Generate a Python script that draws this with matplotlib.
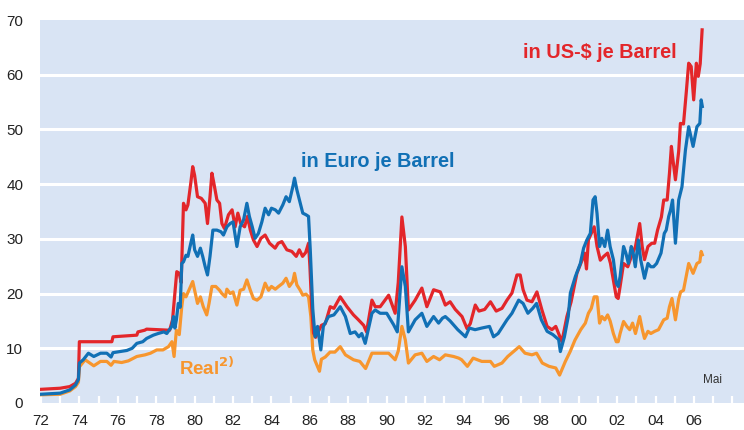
import matplotlib.pyplot as plt
import numpy as np

plt.rcParams['font.family'] = ['Liberation Sans', 'DejaVu Sans']

# Oelpreis in US-$ je Barrel
usd_t = [1972.0, 1973.0, 1973.5, 1973.8, 1973.95, 1974.0, 1975.69, 1975.75, 1976.99, 1977.05,
         1977.4, 1977.5, 1978.7, 1978.85, 1979.07, 1979.2, 1979.3, 1979.42, 1979.55, 1979.65,
         1979.8, 1979.9, 1980.0, 1980.15, 1980.35, 1980.55, 1980.67, 1980.8, 1980.9, 1981.0,
         1981.16, 1981.3, 1981.42, 1981.55, 1981.76, 1981.95, 1982.11, 1982.25, 1982.4, 1982.6,
         1982.75, 1982.9, 1983.06, 1983.25, 1983.45, 1983.67, 1983.9, 1984.19, 1984.35, 1984.54,
         1984.8, 1985.06, 1985.29, 1985.45, 1985.62, 1985.78, 1985.93, 1986.0, 1986.1, 1986.19,
         1986.3, 1986.6, 1986.8, 1987.06, 1987.25, 1987.58, 1987.93, 1988.27, 1988.5, 1988.8,
         1988.95, 1989.23, 1989.4, 1989.66, 1990.1, 1990.44, 1990.6, 1990.79, 1990.97, 1991.13,
         1991.48, 1991.83, 1992.09, 1992.44, 1992.79, 1993.05, 1993.3, 1993.57, 1993.92, 1994.18,
         1994.35, 1994.61, 1994.8, 1995.1, 1995.4, 1995.7, 1996.0, 1996.26, 1996.52, 1996.78,
         1996.95, 1997.1, 1997.3, 1997.56, 1997.82, 1998.08, 1998.35, 1998.6, 1998.8, 1999.12,
         1999.38, 1999.6, 1999.9, 2000.17, 2000.3, 2000.4, 2000.5, 2000.8, 2000.95, 2001.12,
         2001.3, 2001.5, 2001.65, 2001.8, 2001.95, 2002.05, 2002.15, 2002.33, 2002.55, 2002.8,
         2002.95, 2003.17, 2003.3, 2003.42, 2003.6, 2003.8, 2003.95, 2004.1, 2004.3, 2004.42,
         2004.6, 2004.72, 2004.82, 2004.9, 2005.03, 2005.2, 2005.29, 2005.45, 2005.6, 2005.72,
         2005.85, 2005.98, 2006.12, 2006.22, 2006.32, 2006.42]
usd_v = [2.5, 2.7, 3.0, 3.6, 4.5, 11.2, 11.2, 12.1, 12.4, 13.0,
         13.3, 13.5, 13.3, 15.2, 24.0, 23.7, 22.0, 36.5, 35.3, 36.2,
         40.2, 43.2, 41.6, 37.7, 37.4, 36.5, 32.8, 37.7, 42.0, 40.2,
         37.1, 36.5, 32.8, 31.9, 34.4, 35.3, 32.2, 34.7, 32.8, 32.2,
         34.1, 31.6, 29.8, 28.6, 30.1, 30.7, 29.2, 28.3, 29.2, 29.5,
         28.0, 27.7, 26.8, 28.0, 26.8, 27.5, 29.2, 25.0, 17.2, 12.8,
         12.0, 14.2, 14.5, 17.6, 17.3, 19.4, 17.6, 16.1, 15.3, 14.2,
         13.0, 18.8, 17.6, 17.6, 19.7, 16.4, 22.0, 34.0, 28.6, 17.0,
         18.8, 21.0, 17.6, 20.7, 20.3, 17.9, 18.5, 17.1, 15.8, 13.6,
         14.5, 17.9, 16.8, 17.1, 18.5, 16.8, 17.3, 18.8, 20.1, 23.4,
         23.4, 20.7, 18.8, 18.5, 20.3, 17.0, 14.0, 13.4, 14.0, 11.2,
         15.8, 18.5, 23.7, 26.1, 27.4, 24.5, 29.8, 32.2, 28.6, 26.1,
         26.8, 27.4, 25.5, 22.4, 19.4, 19.1, 21.3, 25.5, 24.9, 27.4,
         28.6, 32.8, 28.6, 26.2, 28.6, 29.2, 29.2, 31.6, 34.0, 37.1,
         37.1, 42.0, 46.9, 44.5, 40.8, 46.0, 51.1, 51.0, 57.0, 62.1,
         61.5, 55.4, 62.1, 59.7, 62.0, 68.2]

# Oelpreis in Euro je Barrel
eur_t = [1972.0, 1973.0, 1973.5, 1973.8, 1973.95, 1974.0, 1974.2, 1974.47, 1974.75, 1975.1,
         1975.43, 1975.65, 1975.75, 1976.1, 1976.47, 1976.75, 1976.99, 1977.3, 1977.5, 1977.85,
         1978.1, 1978.4, 1978.55, 1978.81, 1978.9, 1978.97, 1979.05, 1979.15, 1979.25, 1979.33,
         1979.42, 1979.55, 1979.65, 1979.8, 1979.9, 1980.0, 1980.15, 1980.3, 1980.42, 1980.55,
         1980.67, 1980.8, 1980.95, 1981.16, 1981.37, 1981.5, 1981.68, 1981.85, 1982.0, 1982.2,
         1982.37, 1982.55, 1982.72, 1982.85, 1983.0, 1983.15, 1983.32, 1983.5, 1983.67, 1983.85,
         1984.0, 1984.2, 1984.37, 1984.59, 1984.76, 1984.93, 1985.11, 1985.2, 1985.32, 1985.5,
         1985.63, 1985.8, 1985.93, 1986.02, 1986.15, 1986.27, 1986.4, 1986.57, 1986.7, 1986.97,
         1987.25, 1987.58, 1987.85, 1988.1, 1988.35, 1988.55, 1988.7, 1988.88, 1989.23, 1989.4,
         1989.66, 1990.0, 1990.36, 1990.55, 1990.79, 1990.97, 1991.13, 1991.48, 1991.83, 1992.09,
         1992.44, 1992.7, 1992.9, 1993.05, 1993.3, 1993.7, 1994.1, 1994.3, 1994.6, 1994.95,
         1995.35, 1995.56, 1995.8, 1996.26, 1996.52, 1996.87, 1997.1, 1997.35, 1997.6, 1997.8,
         1998.05, 1998.35, 1998.65, 1998.95, 1999.04, 1999.25, 1999.45, 1999.56, 1999.82, 2000.08,
         2000.25, 2000.42, 2000.6, 2000.74, 2000.85, 2000.95, 2001.08, 2001.2, 2001.35, 2001.5,
         2001.63, 2001.8, 2001.95, 2002.05, 2002.15, 2002.33, 2002.45, 2002.58, 2002.73, 2002.83,
         2002.94, 2003.1, 2003.22, 2003.42, 2003.6, 2003.75, 2003.89, 2004.05, 2004.28, 2004.45,
         2004.55, 2004.68, 2004.78, 2004.88, 2005.03, 2005.2, 2005.37, 2005.55, 2005.72, 2005.95,
         2006.15, 2006.3, 2006.37, 2006.43]
eur_v = [1.6, 1.8, 2.4, 3.3, 4.3, 7.3, 7.9, 9.1, 8.5, 9.1,
         9.1, 8.4, 9.2, 9.4, 9.6, 10.0, 10.9, 11.2, 11.8, 12.4,
         12.7, 13.0, 12.7, 14.0, 15.8, 13.7, 15.2, 18.2, 17.5, 25.5,
         25.8, 27.0, 26.8, 29.2, 30.7, 28.0, 26.8, 28.3, 26.8, 24.9,
         23.4, 26.8, 31.6, 31.6, 31.3, 30.7, 32.2, 32.8, 33.1, 28.6,
         32.2, 33.5, 36.5, 34.1, 32.2, 30.1, 31.0, 33.1, 35.6, 34.4,
         35.6, 35.3, 34.7, 36.2, 37.7, 36.8, 39.5, 41.1, 39.0, 36.5,
         34.7, 34.4, 34.1, 28.0, 17.2, 12.1, 14.0, 9.7, 14.0, 15.8,
         16.1, 17.6, 15.8, 12.7, 13.0, 12.1, 12.7, 10.9, 16.4, 17.0,
         16.4, 16.4, 14.3, 13.0, 24.9, 21.3, 13.0, 15.2, 16.4, 14.0,
         15.8, 14.6, 15.5, 15.8, 15.0, 13.4, 12.1, 13.7, 13.4, 13.7,
         14.0, 12.1, 12.7, 15.2, 16.4, 18.8, 18.2, 16.4, 17.3, 18.2,
         15.2, 13.1, 12.5, 11.6, 9.4, 12.1, 15.8, 20.1, 23.1, 25.5,
         28.3, 29.8, 31.0, 37.1, 37.7, 34.6, 28.6, 30.1, 28.6, 31.6,
         28.6, 26.2, 21.9, 21.3, 23.1, 28.6, 27.4, 25.5, 28.6, 27.4,
         24.9, 29.8, 26.2, 22.8, 25.5, 24.9, 24.9, 25.5, 27.4, 31.0,
         31.6, 34.1, 35.3, 37.1, 29.2, 37.1, 39.5, 46.2, 50.5, 46.9,
         50.5, 51.1, 55.4, 54.2]

# realer Oelpreis
real_t = [1972.0, 1973.0, 1973.5, 1973.8, 1973.95, 1974.0, 1974.3, 1974.75, 1975.1, 1975.43,
          1975.65, 1975.8, 1976.2, 1976.55, 1976.99, 1977.42, 1977.7, 1978.03, 1978.35, 1978.64,
          1978.82, 1978.93, 1979.05, 1979.2, 1979.33, 1979.42, 1979.55, 1979.7, 1979.9, 1980.0,
          1980.15, 1980.3, 1980.45, 1980.63, 1980.75, 1980.9, 1981.1, 1981.3, 1981.42, 1981.6,
          1981.68, 1981.85, 1982.0, 1982.2, 1982.37, 1982.55, 1982.72, 1982.9, 1983.06, 1983.25,
          1983.45, 1983.67, 1983.85, 1984.0, 1984.2, 1984.37, 1984.59, 1984.76, 1984.93, 1985.11,
          1985.2, 1985.32, 1985.5, 1985.63, 1985.8, 1985.93, 1986.05, 1986.15, 1986.25, 1986.5,
          1986.6, 1986.8, 1987.05, 1987.3, 1987.58, 1987.85, 1988.27, 1988.6, 1988.9, 1989.23,
          1989.66, 1990.1, 1990.44, 1990.6, 1990.79, 1990.97, 1991.13, 1991.48, 1991.83, 1992.09,
          1992.44, 1992.75, 1993.05, 1993.48, 1993.75, 1993.9, 1994.2, 1994.5, 1994.95, 1995.4,
          1995.6, 1996.0, 1996.3, 1996.6, 1996.9, 1997.2, 1997.56, 1997.8, 1998.1, 1998.45,
          1998.8, 1999.0, 1999.3, 1999.55, 1999.8, 2000.1, 2000.34, 2000.5, 2000.65, 2000.8,
          2000.95, 2001.08, 2001.2, 2001.35, 2001.5, 2001.63, 2001.8, 2001.95, 2002.05, 2002.15,
          2002.33, 2002.5, 2002.65, 2002.8, 2002.95, 2003.17, 2003.3, 2003.42, 2003.6, 2003.75,
          2003.95, 2004.15, 2004.42, 2004.6, 2004.72, 2004.85, 2005.03, 2005.2, 2005.3, 2005.45,
          2005.72, 2005.95, 2006.15, 2006.3, 2006.37, 2006.43]
real_v = [1.5, 1.6, 2.2, 3.0, 3.8, 6.6, 7.9, 6.8, 7.6, 7.6,
          6.9, 7.6, 7.4, 7.7, 8.5, 8.8, 9.1, 9.7, 9.7, 10.3,
          11.2, 8.5, 13.3, 12.5, 17.6, 20.0, 19.4, 20.6, 22.2, 20.6,
          18.2, 19.4, 17.6, 16.1, 18.2, 21.3, 21.3, 20.6, 20.0, 19.4,
          20.8, 20.0, 20.3, 17.9, 20.6, 20.8, 22.5, 20.6, 19.1, 18.8,
          19.4, 21.9, 20.6, 21.3, 20.8, 21.3, 21.9, 22.8, 21.3, 22.2,
          23.7, 21.6, 20.6, 19.7, 19.9, 19.4, 15.8, 9.7, 7.9, 5.8,
          8.0, 8.4, 9.3, 9.3, 10.3, 8.8, 7.9, 7.6, 6.3, 9.1,
          9.1, 9.1, 7.9, 9.5, 14.0, 11.5, 7.3, 8.8, 9.1, 7.6,
          8.5, 7.9, 8.8, 8.5, 8.2, 7.9, 6.7, 8.2, 7.6, 7.6,
          6.7, 7.3, 8.5, 9.4, 10.3, 9.1, 8.8, 9.1, 7.3, 6.7,
          6.4, 5.1, 7.6, 9.4, 11.5, 13.4, 14.6, 16.4, 17.3, 19.4,
          19.4, 14.6, 15.8, 15.2, 16.1, 15.0, 12.7, 11.2, 11.2, 12.7,
          14.9, 14.0, 13.4, 14.6, 12.7, 15.8, 13.5, 11.8, 13.1, 12.7,
          13.1, 13.4, 15.2, 15.5, 17.6, 19.1, 15.2, 19.0, 20.3, 20.6,
          25.5, 23.7, 25.5, 25.8, 27.7, 27.1]

years = np.arange(1972, 2009)
tick_labels = [f"{y % 100:02d}" if (y % 2 == 0 and y <= 2006) else "" for y in years]

red = '#e3262a'
blue = '#1170b5'
orange = '#f7962e'

fig = plt.figure(figsize=(7.44, 4.3), dpi=100)
ax = fig.add_axes([40/744, 27/430, 704/744, 383/430])
ax.set_facecolor('#d9e4f4')

for yv in range(10, 70, 10):
    ax.axhline(yv, color='white', lw=2.2, zorder=1)

ax.plot(real_t, real_v, color=orange, lw=2.3, zorder=3, solid_joinstyle='round')
ax.plot(usd_t, usd_v, color=red, lw=2.3, zorder=4, solid_joinstyle='round')
ax.plot(eur_t, eur_v, color=blue, lw=2.3, zorder=5, solid_joinstyle='round')

ax.set_xlim(1971.95, 2008.6)
ax.set_ylim(0, 70)
ax.set_yticks(range(0, 80, 10))
ax.set_xticks(years)
ax.set_xticklabels(tick_labels)
ax.tick_params(axis='x', direction='in', length=5, width=1.6, colors='white',
               labelcolor='#222222', labelsize=11, pad=8)
ax.tick_params(axis='y', length=0, labelcolor='#222222', labelsize=11, pad=12)
for s in ax.spines.values():
    s.set_visible(False)

ax.text(2001.1, 64, 'in US-$ je Barrel', color=red, fontsize=14.3, fontweight='bold',
        ha='center', va='center')
ax.text(1989.55, 44.1, 'in Euro je Barrel', color=blue, fontsize=14.3, fontweight='bold',
        ha='center', va='center')
ax.text(1979.2, 6.5, r'Real$^{\mathbf{2)}}$', color=orange, fontsize=13.5, fontweight='bold',
        ha='left', va='center')
ax.text(2006.95, 4.2, 'Mai', color='#333333', fontsize=8.5, ha='center', va='center')

fig.savefig('out.png', dpi=100)
